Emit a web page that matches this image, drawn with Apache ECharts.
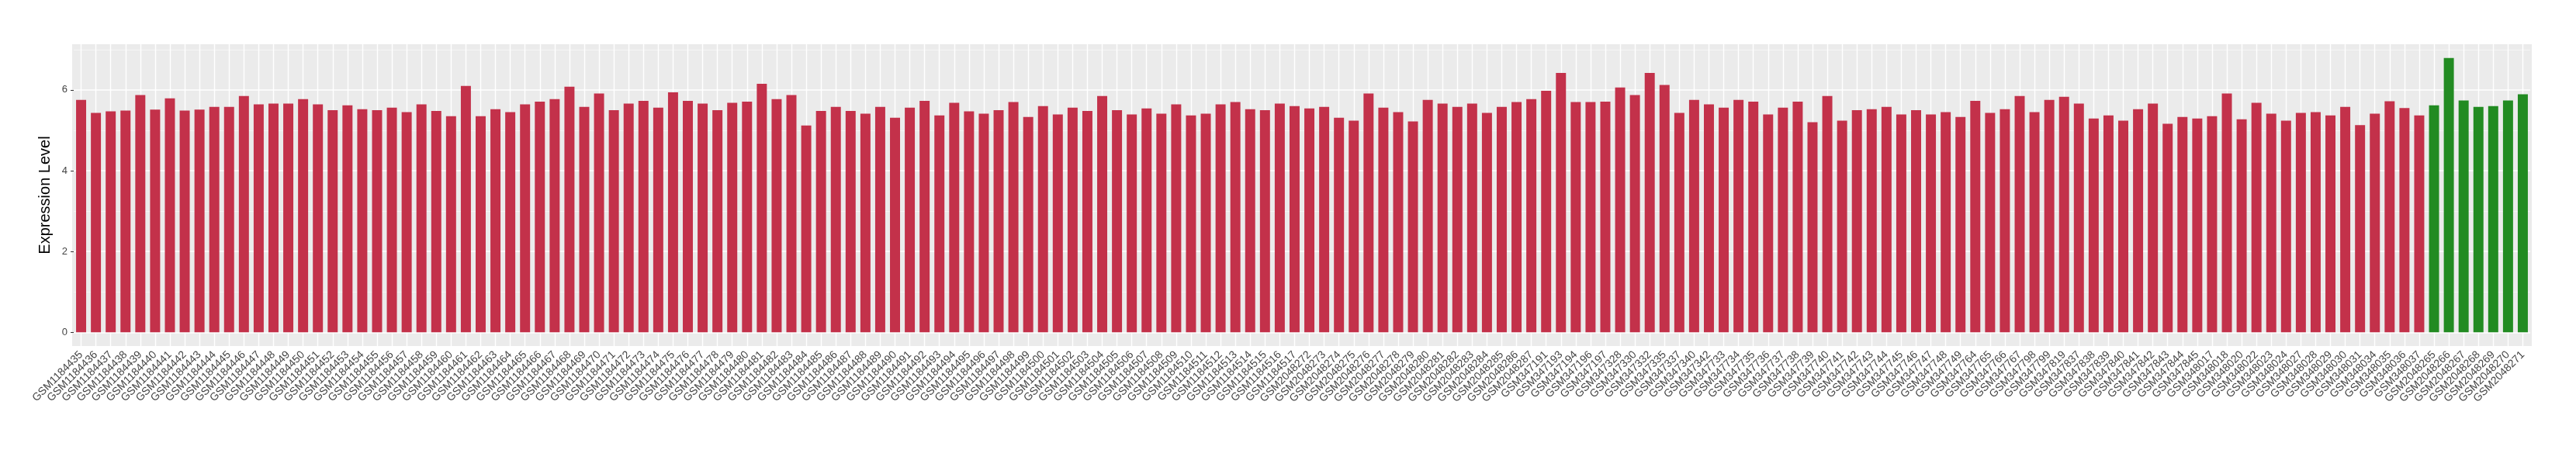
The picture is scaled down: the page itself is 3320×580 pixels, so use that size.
<!DOCTYPE html>
<html>
<head>
<meta charset="utf-8">
<script src="https://cdn.jsdelivr.net/npm/echarts@6/dist/echarts.min.js"></script>
<style>
html,body{margin:0;padding:0;background:#fff;}
#chart{width:3320px;height:580px;}
</style>
</head>
<body>
<div id="chart"></div>
<script>
// ---- data ----
const redCategories = [
"GSM1184435","GSM1184436","GSM1184437","GSM1184438","GSM1184439","GSM1184440","GSM1184441","GSM1184442","GSM1184443","GSM1184444",
"GSM1184445","GSM1184446","GSM1184447","GSM1184448","GSM1184449","GSM1184450","GSM1184451","GSM1184452","GSM1184453","GSM1184454",
"GSM1184455","GSM1184456","GSM1184457","GSM1184458","GSM1184459","GSM1184460","GSM1184461","GSM1184462","GSM1184463","GSM1184464",
"GSM1184465","GSM1184466","GSM1184467","GSM1184468","GSM1184469","GSM1184470","GSM1184471","GSM1184472","GSM1184473","GSM1184474",
"GSM1184475","GSM1184476","GSM1184477","GSM1184478","GSM1184479","GSM1184480","GSM1184481","GSM1184482","GSM1184483","GSM1184484",
"GSM1184485","GSM1184486","GSM1184487","GSM1184488","GSM1184489","GSM1184490","GSM1184491","GSM1184492","GSM1184493","GSM1184494",
"GSM1184495","GSM1184496","GSM1184497","GSM1184498","GSM1184499","GSM1184500","GSM1184501","GSM1184502","GSM1184503","GSM1184504",
"GSM1184505","GSM1184506","GSM1184507","GSM1184508","GSM1184509","GSM1184510","GSM1184511","GSM1184512","GSM1184513","GSM1184514",
"GSM1184515","GSM1184516","GSM1184517",
"GSM2048272","GSM2048273","GSM2048274","GSM2048275","GSM2048276","GSM2048277","GSM2048278","GSM2048279","GSM2048280","GSM2048281",
"GSM2048282","GSM2048283","GSM2048284","GSM2048285","GSM2048286","GSM2048287",
"GSM347191","GSM347193","GSM347194","GSM347196","GSM347197","GSM347328","GSM347330","GSM347332","GSM347335","GSM347337",
"GSM347340","GSM347342",
"GSM347733","GSM347734","GSM347735","GSM347736","GSM347737","GSM347738","GSM347739","GSM347740","GSM347741","GSM347742",
"GSM347743","GSM347744","GSM347745","GSM347746","GSM347747","GSM347748","GSM347749",
"GSM347764","GSM347765","GSM347766","GSM347767","GSM347798","GSM347799","GSM347819",
"GSM347837","GSM347838","GSM347839","GSM347840","GSM347841","GSM347842","GSM347843","GSM347844","GSM347845",
"GSM348017","GSM348018","GSM348020","GSM348022","GSM348023","GSM348024","GSM348027","GSM348028","GSM348029","GSM348030",
"GSM348031","GSM348034","GSM348035","GSM348036","GSM348037"
];
const redValues = [
5.75,5.43,5.47,5.49,5.87,5.51,5.79,5.49,5.51,5.58,
5.58,5.85,5.64,5.66,5.66,5.77,5.64,5.50,5.62,5.52,
5.50,5.56,5.45,5.64,5.48,5.35,6.10,5.35,5.52,5.45,
5.64,5.71,5.77,6.08,5.58,5.91,5.50,5.66,5.73,5.56,
5.94,5.73,5.66,5.50,5.68,5.71,6.15,5.77,5.87,5.12,
5.48,5.58,5.48,5.41,5.58,5.31,5.56,5.73,5.37,5.68,
5.47,5.41,5.50,5.70,5.33,5.60,5.39,5.56,5.48,5.85,
5.50,5.39,5.54,5.41,5.64,5.37,5.41,5.64,5.70,5.52,
5.50,5.66,5.60,
5.54,5.58,5.31,5.24,5.91,5.56,5.45,5.22,5.75,5.66,
5.58,5.66,5.43,5.58,5.70,5.77,
5.98,6.42,5.70,5.70,5.71,6.06,5.87,6.42,6.12,5.43,
5.75,5.64,
5.56,5.75,5.71,5.39,5.56,5.71,5.20,5.85,5.24,5.50,
5.52,5.58,5.39,5.50,5.39,5.45,5.33,
5.73,5.43,5.52,5.85,5.45,5.75,5.83,
5.66,5.29,5.37,5.24,5.52,5.66,5.16,5.33,5.29,
5.35,5.91,5.27,5.68,5.41,5.24,5.43,5.45,5.37,5.58,
5.13,5.41,5.72,5.55,5.37
];
const greenCategories = ["GSM2048265","GSM2048266","GSM2048267","GSM2048268","GSM2048269","GSM2048270","GSM2048271"];
const greenValues = [5.62,6.79,5.74,5.58,5.60,5.74,5.89];
const yLabelValues = [0,2,4,6];
const yMinorValues = [1,3,5,7];
const yTitle = "Expression Level";

// ---- build ----
const categories = redCategories.concat(greenCategories);
const redSeriesData = redValues.concat(greenCategories.map(() => null));
const greenSeriesData = redCategories.map(() => null).concat(greenValues);

const FONT = "'Liberation Sans', Arial, Helvetica, sans-serif";
const gridLines = []
  .concat(yMinorValues.map(v => ({ yAxis: v, lineStyle: { color: '#F8F8F8', width: 0.8, type: 'solid' } })))
  .concat(yLabelValues.map(v => ({ yAxis: v, lineStyle: { color: '#FFFFFF', width: 1.5, type: 'solid' } })))
  .concat(categories.map(c => ({ xAxis: c, lineStyle: { color: '#FFFFFF', width: 1.4, type: 'solid' } })));

const chart = echarts.init(document.getElementById('chart'), null, { renderer: 'canvas' });
chart.setOption({
  animation: false,
  backgroundColor: '#FFFFFF',
  textStyle: { fontFamily: FONT },
  graphic: [{
    type: 'rect', silent: true, z: -10,
    shape: { x: 93, y: 57, width: 3170, height: 389 },
    style: { fill: '#EBEBEB' }
  }],
  grid: {
    left: 95, right: 59, top: 57, bottom: 134,
    show: false
  },
  xAxis: {
    type: 'category',
    data: categories,
    boundaryGap: true,
    axisLine: { show: false },
    axisTick: { show: true, alignWithLabel: true, length: 4, lineStyle: { color: '#333333', width: 1 } },
    axisLabel: { rotate: 45, interval: 0, fontSize: 14, color: '#444444', fontFamily: FONT, margin: 9 },
    splitLine: { show: false }
  },
  yAxis: {
    type: 'value',
    min: -0.34, max: 7.13,
    name: yTitle,
    nameLocation: 'middle',
    nameRotate: 90,
    nameGap: 15,
    nameTextStyle: { fontSize: 20, color: '#000000', fontFamily: FONT },
    axisLine: { show: false },
    axisTick: { show: true, length: 4, customValues: yLabelValues, lineStyle: { color: '#333333' } },
    axisLabel: { fontSize: 13, color: '#444444', fontFamily: FONT, margin: 8, customValues: yLabelValues,
      formatter: v => String(v) },
    splitLine: { show: false },
    minorSplitLine: { show: false }
  },
  series: [
    {
      type: 'line', data: categories.map(() => null), silent: true, z: 1,
      symbol: 'none',
      markLine: { silent: true, symbol: ['none', 'none'], label: { show: false }, z: 1, animation: false,
        emphasis: { disabled: true }, data: gridLines }
    },
    {
      type: 'bar', data: redSeriesData, barWidth: '68%', barGap: '-100%', z: 3,
      itemStyle: { color: '#C3314A' }
    },
    {
      type: 'bar', data: greenSeriesData, barWidth: '68%', barGap: '-100%', z: 3,
      itemStyle: { color: '#228B22' }
    }
  ]
});
</script>
</body>
</html>
